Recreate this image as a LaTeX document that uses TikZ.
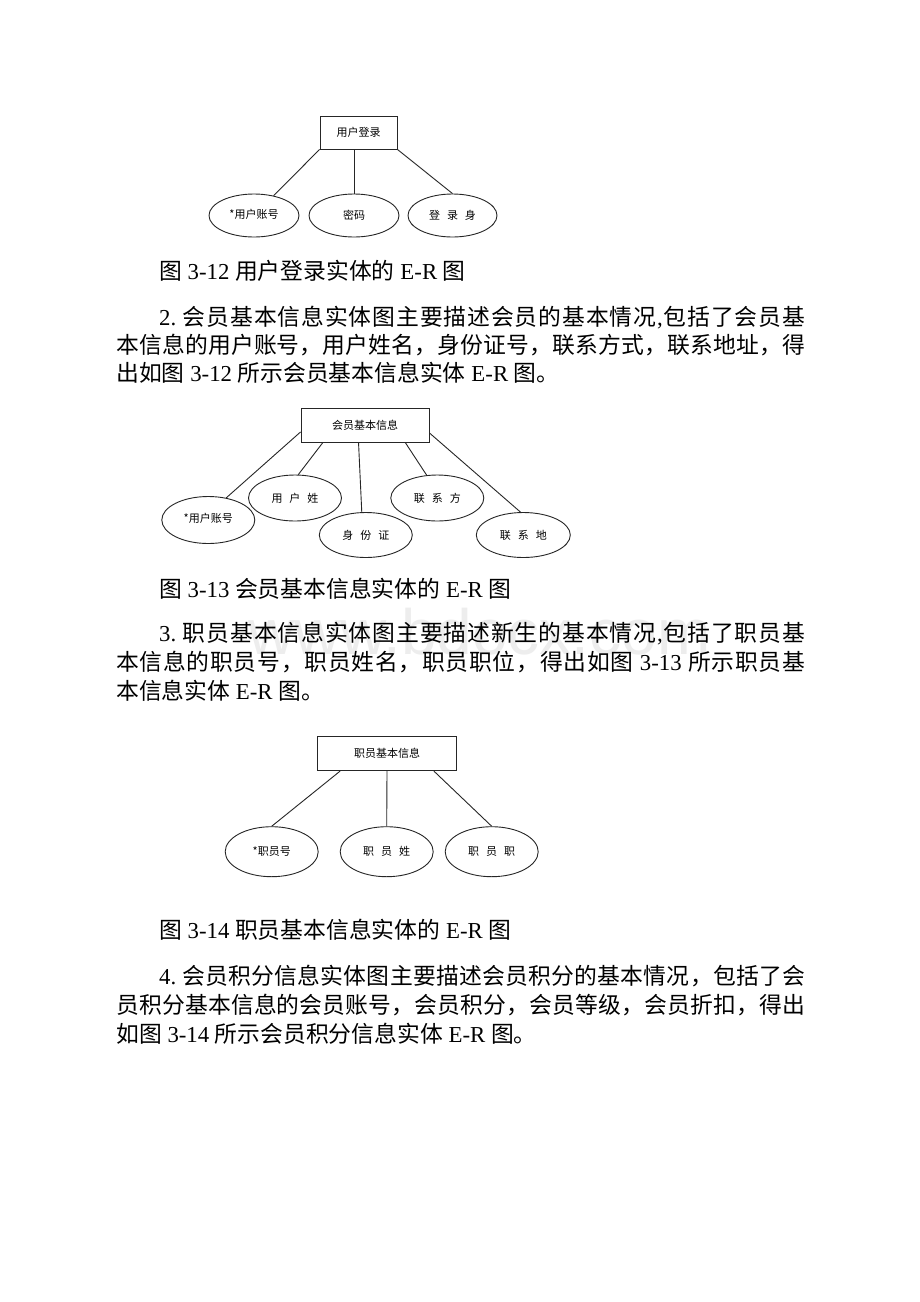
\documentclass[tikz,border=0pt]{standalone}
\usepackage{fontspec}
\setmainfont{Liberation Serif}
\newfontfamily\cjk{Noto Sans CJK SC}
\newfontfamily\wmfont{Liberation Sans}
\usetikzlibrary{shapes.geometric}
\newcommand\lat[1]{{\rmfamily #1}}
\newcommand\g{\hspace{7pt}}
\makeatletter
\def\jline#1#2{\makebox[#1][s]{\jl@a#2\jl@end}}
\def\jl@a#1#2\jl@end{#1\ifx\relax#2\relax\else\hskip 0pt plus 1fil\relax\jl@a#2\jl@end\fi}
\makeatother
\begin{document}
\begin{tikzpicture}[x=1pt,y=-1pt,
  ent/.style={draw=black!85, line width=0.9pt, rectangle, inner sep=0pt, font=\cjk\fontsize{11}{13}\selectfont},
  att/.style={draw=black!85, line width=0.9pt, ellipse, inner sep=0pt, font=\cjk\fontsize{11}{13}\selectfont},
  conn/.style={draw=black!85, line width=0.9pt},
  body/.style={anchor=base west, inner sep=0pt, font=\cjk\fontsize{22.8}{28}\selectfont},
  wm/.style={anchor=base west, inner sep=0pt, text=black!7, font=\wmfont\fontsize{64}{64}\selectfont}]
\fill[white] (0,0) rectangle (920,1302);
\useasboundingbox (0,0) rectangle (920,1302);

% watermark (faint, behind the text)
\node[wm] (wm) at (248,654) {www.bdocx.com};

% ---------- diagram 1 ----------
\node[ent, minimum width=77pt, minimum height=33pt] (r1) at (358.5,132.5) {用户登录};
\node[att, minimum width=90pt, minimum height=43pt] (e11) at (254,215.5) {\raisebox{4pt}{*用户账号}};
\node[att, minimum width=90pt, minimum height=43pt] (e12) at (354,215.5) {密码};
\node[att, minimum width=89pt, minimum height=43pt] (e13) at (452.5,215.5) {登\g 录\g 身};
\draw[conn] (r1.south west) -- (e11);
\draw[conn] (r1.south -| e12.north) -- (e12.north);
\draw[conn] (r1.south east) -- (e13.north);

\node[body] (cap1) at (159,279.5) {图\lat{ 3-12 }用户登录实体的\lat{ E-R }图};
\node[body] (p2a) at (159,325) {\jline{646pt}{{\lat{2.~}}会员基本信息实体图主要描述会员的基本情况{\lat{,}}包括了会员基}};
\node[body] (p2b) at (116,353) {\jline{689pt}{本信息的用户账号，用户姓名，身份证号，联系方式，联系地址，得}};
\node[body] (p2c) at (116,381) {出如图\lat{ 3-12 }所示会员基本信息实体\lat{ E-R }图。};

% ---------- diagram 2 ----------
\node[ent, minimum width=128pt, minimum height=34pt] (r2) at (365,425.5) {会员基本信息};
\node[att, minimum width=93pt, minimum height=47pt] (e21) at (208.3,520) {\raisebox{4pt}{*用户账号}};
\node[att, minimum width=93pt, minimum height=46pt] (e22) at (295,498) {用\g 户\g 姓};
\node[att, minimum width=93pt, minimum height=45pt] (e23) at (365.8,535) {身\g 份\g 证};
\node[att, minimum width=93pt, minimum height=46pt] (e24) at (437.3,498) {联\g 系\g 方};
\node[att, minimum width=94pt, minimum height=45pt] (e25) at (523.3,535) {联\g 系\g 地};
\draw[conn] ([yshift=11pt]r2.south west) -- (e21.51);
\draw[conn] ([xshift=22pt]r2.south west) -- (e22.82);
\draw[conn] ([xshift=58pt]r2.south west) -- (e23.100);
\draw[conn] ([xshift=105pt]r2.south west) -- (e24.115);
\draw[conn] ([yshift=10pt]r2.south east) -- (e25.97);

\node[body] (cap2) at (159,597) {图\lat{ 3-13 }会员基本信息实体的\lat{ E-R }图};
\node[body] (p3a) at (159,641) {\jline{646pt}{{\lat{3.~}}职员基本信息实体图主要描述新生的基本情况{\lat{,}}包括了职员基}};
\node[body] (p3b) at (116,670) {\jline{689pt}{本信息的职员号，职员姓名，职员职位，得出如图{\lat{~3-13~}}所示职员基}};
\node[body] (p3c) at (116,699) {本信息实体\lat{ E-R }图。};

% ---------- diagram 3 ----------
\node[ent, minimum width=139pt, minimum height=34pt] (r3) at (387,753.7) {职员基本信息};
\node[att, minimum width=93pt, minimum height=50pt] (e31) at (271.7,851.7) {*职员号};
\node[att, minimum width=93pt, minimum height=50pt] (e32) at (386.7,851.7) {职\g 员\g 姓};
\node[att, minimum width=93pt, minimum height=50pt] (e33) at (491.7,851.7) {职\g 员\g 职};
\draw[conn] ([xshift=23pt]r3.south west) -- (e31.north);
\draw[conn] (r3.south) -- (e32.north);
\draw[conn] ([xshift=-23pt]r3.south east) -- (e33.north);

\node[body] (cap3) at (159,938) {图\lat{ 3-14 }职员基本信息实体的\lat{ E-R }图};
\node[body] (p4a) at (159,984) {\jline{646pt}{{\lat{4.~}}会员积分信息实体图主要描述会员积分的基本情况，包括了会}};
\node[body] (p4b) at (116,1013) {\jline{689pt}{员积分基本信息的会员账号，会员积分，会员等级，会员折扣，得出}};
\node[body] (p4c) at (116,1042) {如图\lat{ 3-14 }所示会员积分信息实体\lat{ E-R }图。};
\end{tikzpicture}
\end{document}
